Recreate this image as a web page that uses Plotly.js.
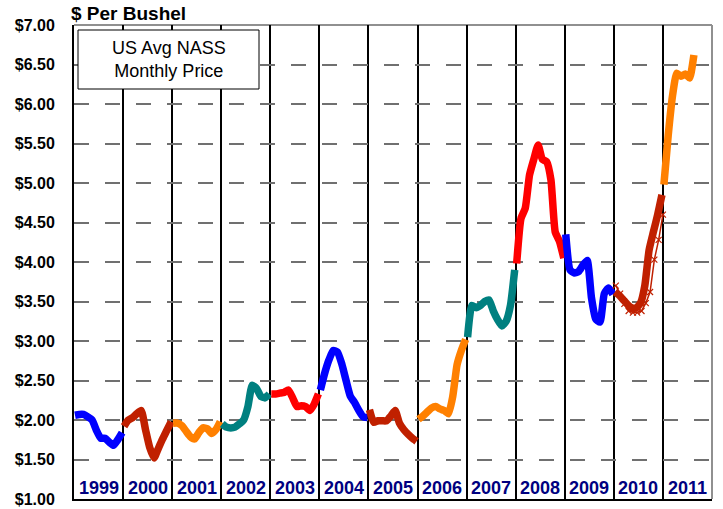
<!DOCTYPE html>
<html>
<head>
<meta charset="utf-8">
<script src="https://cdn.plot.ly/plotly-3.0.1.min.js"></script>
<style>html,body{margin:0;padding:0;background:#fff;}#chart{width:723px;height:509px;}</style>
</head>
<body>
<div id="chart"></div>
<script>
// Monthly US average NASS price ($ per bushel)
const years = [1999,2000,2001,2002,2003,2004,2005,2006,2007,2008,2009,2010,2011];
const yearLabels = ["1999","2000","2001","2002","2003","2004","2005","2006","2007","2008","2009","2010","2011"];
const p1999 = [2.06,2.07,2.07,2.04,2.00,1.87,1.77,1.77,1.72,1.68,1.75,1.84];
const p2000 = [1.92,2.00,2.03,2.08,2.12,1.88,1.65,1.52,1.64,1.76,1.87,1.98];
const p2001 = [1.96,1.96,1.93,1.86,1.79,1.76,1.84,1.90,1.89,1.83,1.88,1.98];
const p2002 = [1.95,1.91,1.90,1.91,1.95,2.00,2.17,2.44,2.40,2.30,2.28,2.33];
const p2003 = [2.33,2.33,2.34,2.35,2.38,2.28,2.17,2.18,2.17,2.12,2.20,2.33];
const p2004 = [2.38,2.59,2.76,2.88,2.86,2.71,2.50,2.30,2.22,2.12,2.04,2.03];
const p2005 = [2.13,1.97,1.99,1.99,1.99,2.05,2.12,1.96,1.88,1.82,1.77,1.73];
const p2006 = [2.01,2.05,2.10,2.15,2.17,2.14,2.12,2.08,2.30,2.70,2.88,3.02];
const p2007 = [3.05,3.45,3.42,3.45,3.50,3.52,3.38,3.27,3.19,3.25,3.45,3.90];
const p2008 = [3.98,4.55,4.68,5.10,5.30,5.48,5.30,5.27,5.04,4.38,4.26,4.05];
const p2009 = [4.35,3.90,3.86,3.88,3.96,4.02,3.55,3.28,3.24,3.60,3.67,3.59];
const p2010 = [3.62,3.58,3.52,3.46,3.42,3.42,3.48,3.70,4.15,4.38,4.60,4.85];
const p2011 = [4.98,5.60,6.10,6.39,6.35,6.38,6.33,6.62];
const p2010b = [3.70,3.60,3.47,3.38,3.36,3.36,3.38,3.48,3.62,4.03,4.28,4.60];
const series = [p1999,p2000,p2001,p2002,p2003,p2004,p2005,p2006,p2007,p2008,p2009,p2010,p2011];
const colors = ["#0000FF","#C02000","#FF8000","#008080","#FF0000","#0000FF","#C02000","#FF8000","#008080","#FF0000","#0000FF","#C02000","#FF8000"];
const yTicks = [1,1.5,2,2.5,3,3.5,4,4.5,5,5.5,6,6.5,7];
const yTickText = ["$1.00","$1.50","$2.00","$2.50","$3.00","$3.50","$4.00","$4.50","$5.00","$5.50","$6.00","$6.50","$7.00"];

function monthX(year, n){ const xs=[]; for(let m=0;m<n;m++){ xs.push(year + 0.02 + m*0.96/11); } return xs; }

const traces = series.map((vals,i)=>({
  type:'scatter', mode:'lines', x: monthX(years[i], vals.length), y: vals,
  line:{color:colors[i], width:7.5, shape:'spline', smoothing:0.5},
  hoverinfo:'skip', showlegend:false
}));
traces.push({
  type:'scatter', mode:'lines+markers', x: monthX(2010, p2010b.length).map(v=>v+0.02), y: p2010b,
  line:{color:'#C02000', width:1.5}, marker:{symbol:'x-thin-open', size:6, line:{color:'#C02000', width:1.2}},
  hoverinfo:'skip', showlegend:false
});

const W=638, H=474, L=74, T=25;
const px = x => (x-L)/W, py = y => (T+H-y)/H;

const annotations = years.map((yr,i)=>({
  x: yr+0.5, xref:'x', y: py(488), yref:'paper', text: yearLabels[i], showarrow:false,
  xanchor:'center', yanchor:'middle',
  font:{family:'Liberation Sans, Arial, sans-serif', size:18, color:'#000080', weight:'bold'}
}));
annotations.push({
  x: px(69), xref:'paper', y: py(14), yref:'paper', text:'<b>$ Per Bushel</b>', showarrow:false,
  xanchor:'left', yanchor:'middle', font:{family:'Liberation Sans, Arial, sans-serif', size:19, color:'#000'}
});
annotations.push({
  x: px(168.5), xref:'paper', y: py(60), yref:'paper', text:'US Avg NASS<br>Monthly Price', showarrow:false,
  xanchor:'center', yanchor:'middle', align:'center',
  font:{family:'Liberation Sans, Arial, sans-serif', size:18, color:'#000'}
});

const layout = {
  width:723, height:509, paper_bgcolor:'#fff', plot_bgcolor:'#fff',
  margin:{l:74, r:11, t:25, b:10, pad:0},
  xaxis:{range:[1999,2012], tick0:1999, dtick:1, showgrid:true, gridcolor:'#000', gridwidth:2,
         showticklabels:false, ticks:'', zeroline:false, showline:true, linecolor:'#000', linewidth:2, fixedrange:true},
  yaxis:{range:[1,7], tickmode:'array', tickvals:yTicks, ticktext:yTickText, showgrid:true, gridcolor:'#707070', gridwidth:2,
         griddash:'15px,16px', ticks:'', ticklabelstandoff:14, zeroline:false, showline:true, linecolor:'#000', linewidth:2,
         tickfont:{family:'Liberation Sans, Arial, sans-serif', size:16, color:'#000', weight:'bold'}, fixedrange:true},
  shapes:[
    {type:'line', xref:'paper', yref:'paper', x0:0, x1:1, y0:1, y1:1, line:{color:'#909090', width:2}, layer:'below'},
    {type:'line', xref:'paper', yref:'paper', x0:1, x1:1, y0:0, y1:1, line:{color:'#909090', width:2}, layer:'below'},
    {type:'rect', xref:'paper', yref:'paper', x0:px(78), x1:px(259), y0:py(89), y1:py(30), fillcolor:'#fff', line:{color:'#000', width:1}, layer:'above'}
  ],
  annotations: annotations
};

Plotly.newPlot('chart', traces, layout, {displayModeBar:false, staticPlot:true});
</script>
</body>
</html>
